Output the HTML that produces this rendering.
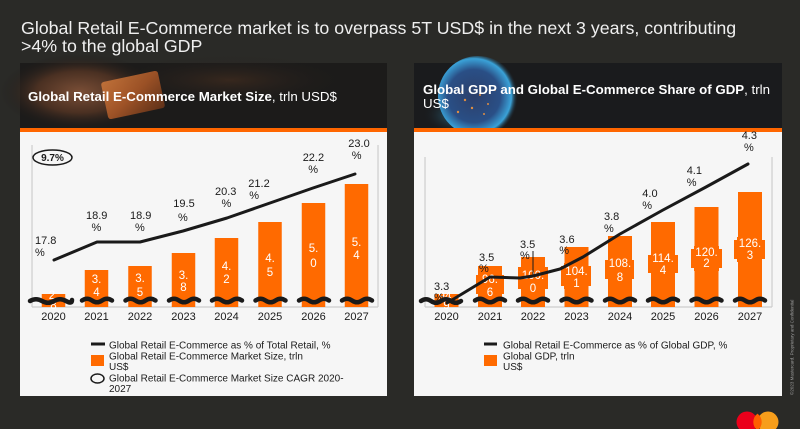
<!DOCTYPE html>
<html><head><meta charset="utf-8"><style>
html,body{margin:0;padding:0;background:#2a2a27;}
svg{display:block;}
</style></head><body>
<svg width="800" height="429" viewBox="0 0 800 429" xmlns="http://www.w3.org/2000/svg" font-family="'Liberation Sans', Arial, sans-serif">
<defs>
<radialGradient id="hand" cx="0.5" cy="0.5" r="0.5">
<stop offset="0" stop-color="#7a4e36"/><stop offset="0.55" stop-color="#4a3022"/><stop offset="1" stop-color="#1c1a19" stop-opacity="0"/>
</radialGradient>
<linearGradient id="card" x1="0" y1="0" x2="1" y2="1">
<stop offset="0" stop-color="#d07a3c"/><stop offset="0.5" stop-color="#b05a28"/><stop offset="1" stop-color="#6a3418"/>
</linearGradient>
<radialGradient id="bokeh" cx="0.5" cy="0.5" r="0.5">
<stop offset="0" stop-color="#4a3020" stop-opacity="0.6"/><stop offset="1" stop-color="#1c1c1c" stop-opacity="0"/>
</radialGradient>
<radialGradient id="globe" cx="0.45" cy="0.5" r="0.55">
<stop offset="0" stop-color="#2c3f6a"/><stop offset="0.6" stop-color="#2a4f86"/><stop offset="0.85" stop-color="#3aa2d8"/><stop offset="1" stop-color="#1a1d24" stop-opacity="0"/>
</radialGradient>
<radialGradient id="glow" cx="0.5" cy="0.5" r="0.5">
<stop offset="0" stop-color="#40c0f0" stop-opacity="0.9"/><stop offset="1" stop-color="#1a1d24" stop-opacity="0"/>
</radialGradient>
</defs>

<rect x="0" y="0" width="800" height="429" fill="#2a2a27"/>

<text x="21" y="34" font-size="17.8" fill="#efefef">Global Retail E-Commerce market is to overpass 5T USD$ in the next 3 years, contributing</text>
<text x="21" y="52" font-size="17.8" fill="#efefef">&gt;4% to the global GDP</text>

<!-- Panel 1 -->
<rect x="20" y="63" width="367" height="65" fill="#1c1b1a"/>
<ellipse cx="230" cy="80" rx="120" ry="25" fill="url(#bokeh)"/>
<ellipse cx="80" cy="92" rx="80" ry="38" fill="url(#hand)"/>
<g transform="rotate(-12 133 95)" opacity="0.85"><rect x="104" y="76" width="58" height="38" rx="3" fill="url(#card)"/></g>
<rect x="20" y="128" width="367" height="4" fill="#ff6600"/>
<rect x="20" y="132" width="367" height="264" fill="#f6f6f6"/>
<text x="28" y="101" font-size="13.3" fill="#ffffff"><tspan font-weight="bold">Global Retail E-Commerce Market Size</tspan>, trln USD$</text>

<!-- Panel 2 -->
<rect x="414" y="63" width="368" height="65" fill="#1a1b1d"/>
<ellipse cx="468" cy="115" rx="45" ry="20" fill="url(#glow)"/>
<circle cx="478" cy="96" r="40" fill="url(#globe)"/>
<g fill="#ff9a3a" opacity="0.85">
<circle cx="465" cy="100" r="1.2"/><circle cx="472" cy="108" r="1.2"/><circle cx="480" cy="95" r="1"/><circle cx="458" cy="112" r="1.2"/><circle cx="488" cy="104" r="1"/><circle cx="470" cy="88" r="0.9"/><circle cx="495" cy="90" r="0.9"/><circle cx="462" cy="92" r="1"/><circle cx="484" cy="114" r="1"/>
</g>
<rect x="414" y="128" width="368" height="4" fill="#ff6600"/>
<rect x="414" y="132" width="368" height="264" fill="#f6f6f6"/>
<text x="423" y="94" font-size="13.3" fill="#ffffff"><tspan font-weight="bold">Global GDP and Global E-Commerce Share of GDP</tspan>, trln</text>
<text x="423" y="108" font-size="13.3" fill="#ffffff">US$</text>

<!-- Chart 1 frame -->
<g stroke="#cdcdcd" stroke-width="1.2" fill="none">
<line x1="32" y1="145" x2="32" y2="307"/>
<line x1="378" y1="145" x2="378" y2="307"/>
<line x1="32" y1="307" x2="378" y2="307"/>
</g>
<g fill="#ff6a00">
<rect x="41.75" y="294" width="23.5" height="13"/>
<rect x="84.75" y="270" width="23.5" height="37"/>
<rect x="128.25" y="266" width="23.5" height="41"/>
<rect x="171.75" y="253" width="23.5" height="54"/>
<rect x="214.75" y="238" width="23.5" height="69"/>
<rect x="258.25" y="222" width="23.5" height="85"/>
<rect x="301.75" y="203" width="23.5" height="104"/>
<rect x="344.75" y="184" width="23.5" height="123"/>
</g>
<g fill="#ffffff" font-size="11.5" text-anchor="middle">
<text x="53.5" y="299">2.</text><text x="53.5" y="309">8</text>
<text x="96.5" y="283">3.</text><text x="96.5" y="296">4</text>
<text x="140" y="282">3.</text><text x="140" y="296">5</text>
<text x="183.5" y="279">3.</text><text x="183.5" y="291">8</text>
<text x="226.5" y="270">4.</text><text x="226.5" y="283">2</text>
<text x="270" y="262">4.</text><text x="270" y="276">5</text>
<text x="313.5" y="252">5.</text><text x="313.5" y="267">0</text>
<text x="356.5" y="246">5.</text><text x="356.5" y="259">4</text>
</g>
<g stroke="#1a1a1a" stroke-width="4.5" fill="none" stroke-linecap="round">
<path d="M30,301 q6,-3.5 12,0 t12,0 t12,0 t6,-1"/>
<path d="M82,300.5 q5,-3.5 10,0 t10,0 t10,0"/>
<path d="M125.5,300.5 q5,-3.5 10,0 t10,0 t10,0"/>
<path d="M169,300.5 q5,-3.5 10,0 t10,0 t10,0"/>
<path d="M212,300.5 q5,-3.5 10,0 t10,0 t10,0"/>
<path d="M255.5,300.5 q5,-3.5 10,0 t10,0 t10,0"/>
<path d="M299,300.5 q5,-3.5 10,0 t10,0 t10,0"/>
<path d="M342,300.5 q5,-3.5 10,0 t10,0 t10,0"/>
</g>
<polyline points="54,260 97,242 140,242 183,231 227,218 270,203 313,188 355,174" fill="none" stroke="#1a1a1a" stroke-width="3" stroke-linejoin="round" stroke-linecap="round"/>
<g fill="#1a1a1a" font-size="11">
<text x="35" y="244">17.8</text><text x="35" y="256">%</text>
<text x="86" y="219">18.9</text><text x="91.5" y="231">%</text>
<text x="130" y="219">18.9</text><text x="135" y="231">%</text>
<text x="173.3" y="207">19.5</text><text x="178" y="221">%</text>
<text x="215" y="195">20.3</text><text x="221.5" y="207">%</text>
<text x="248.3" y="187">21.2</text><text x="249.3" y="199">%</text>
<text x="302.7" y="161">22.2</text><text x="308.3" y="173">%</text>
<text x="348.3" y="147">23.0</text><text x="351.7" y="159">%</text>
</g>
<ellipse cx="52.5" cy="157.5" rx="19.5" ry="7.5" fill="#f6f6f6" stroke="#1a1a1a" stroke-width="1.5"/>
<text x="52.5" y="161" font-size="10" font-weight="bold" text-anchor="middle" fill="#1a1a1a">9.7%</text>
<g fill="#1a1a1a" font-size="11" text-anchor="middle">
<text x="53.5" y="320">2020</text><text x="96.5" y="320">2021</text><text x="140" y="320">2022</text><text x="183.5" y="320">2023</text>
<text x="226.5" y="320">2024</text><text x="270" y="320">2025</text><text x="313.5" y="320">2026</text><text x="356.5" y="320">2027</text>
</g>
<line x1="91" y1="344" x2="105" y2="344" stroke="#1a1a1a" stroke-width="3"/>
<rect x="91" y="355" width="13" height="11" fill="#ff6a00"/>
<ellipse cx="97.5" cy="378.5" rx="6.5" ry="4.5" fill="none" stroke="#1a1a1a" stroke-width="1.5"/>
<g fill="#1a1a1a" font-size="10">
<text x="109" y="348.5">Global Retail E-Commerce as % of Total Retail, %</text>
<text x="109" y="359.5">Global Retail E-Commerce Market Size, trln</text>
<text x="109" y="370">US$</text>
<text x="109" y="381.5">Global Retail E-Commerce Market Size CAGR 2020-</text>
<text x="109" y="392">2027</text>
</g>

<!-- Chart 2 frame -->
<g stroke="#cdcdcd" stroke-width="1.2" fill="none">
<line x1="425" y1="157" x2="425" y2="307"/>
<line x1="772" y1="157" x2="772" y2="307"/>
<line x1="425" y1="307" x2="772" y2="307"/>
</g>
<g fill="#ff6a00">
<rect x="434.5" y="294" width="24" height="13"/>
<rect x="478" y="266" width="24" height="41"/>
<rect x="521" y="257" width="24" height="50"/>
<rect x="564.5" y="247" width="24" height="60"/>
<rect x="608" y="236" width="24" height="71"/>
<rect x="651" y="222" width="24" height="85"/>
<rect x="694.5" y="207" width="24" height="100"/>
<rect x="738" y="192" width="24" height="115"/>
<polygon points="479,272 501,272 501,275 504,275 504,294 501,294 501,297 479,297 479,294 476,294 476,275 479,275"/>
<polygon points="521,264 545,264 545,267 548,267 548,289 545,289 545,292 521,292 521,289 518,289 518,267 521,267"/>
<polygon points="564,263 588,263 588,266 591,266 591,286 588,286 588,289 564,289 564,286 561,286 561,266 564,266"/>
<polygon points="608,257 631,257 631,260 634,260 634,279 631,279 631,282 608,282 608,279 605,279 605,260 608,260"/>
<polygon points="651,252 675,252 675,255 678,255 678,273 675,273 675,276 651,276 651,273 648,273 648,255 651,255"/>
<polygon points="694,246 719,246 719,249 722,249 722,268 719,268 719,271 694,271 694,268 691,268 691,249 694,249"/>
<polygon points="737,237 762,237 762,240 765,240 765,259 762,259 762,262 737,262 737,259 734,259 734,240 737,240"/>
</g>
<g fill="#ffffff" font-size="11.5" text-anchor="middle">
<text x="446.5" y="300">94.</text><text x="446.5" y="309">9</text>
<text x="490" y="283">96.</text><text x="490" y="296">6</text>
<text x="533" y="279">100.</text><text x="533" y="292">0</text>
<text x="576.5" y="275">104.</text><text x="576.5" y="287">1</text>
<text x="620" y="267">108.</text><text x="620" y="281">8</text>
<text x="663" y="262">114.</text><text x="663" y="274">4</text>
<text x="706.5" y="256">120.</text><text x="706.5" y="267">2</text>
<text x="750" y="247">126.</text><text x="750" y="259">3</text>
</g>
<g stroke="#1a1a1a" stroke-width="4.5" fill="none" stroke-linecap="round">
<path d="M421,301 q5,-3.5 10,0 t10,0 t10,0 t10,0"/>
<path d="M475,300.5 q5,-3.5 10,0 t10,0 t10,0"/>
<path d="M518,300.5 q5,-3.5 10,0 t10,0 t10,0"/>
<path d="M561.5,300.5 q5,-3.5 10,0 t10,0 t10,0"/>
<path d="M605,300.5 q5,-3.5 10,0 t10,0 t10,0"/>
<path d="M648,300.5 q5,-3.5 10,0 t10,0 t10,0"/>
<path d="M691.5,300.5 q5,-3.5 10,0 t10,0 t10,0"/>
<path d="M735,300.5 q5,-3.5 10,0 t10,0 t10,0"/>
</g>
<polyline points="447,303 490,277 520,278 533,276 560,269 583,257 620,234 663,210 706,187 748,164" fill="none" stroke="#1a1a1a" stroke-width="3" stroke-linejoin="round" stroke-linecap="round"/>
<line x1="533" y1="251" x2="533" y2="276" stroke="#1a1a1a" stroke-width="1"/>
<g fill="#1a1a1a" font-size="11">
<text x="434" y="290">3.3</text><text x="434" y="301">%</text>
<text x="479" y="261">3.5</text><text x="479" y="272">%</text>
<text x="520" y="248">3.5</text><text x="520" y="259">%</text>
<text x="559.3" y="243">3.6</text><text x="559.3" y="254">%</text>
<text x="604" y="220">3.8</text><text x="604" y="232">%</text>
<text x="642.3" y="197">4.0</text><text x="642.3" y="209">%</text>
<text x="686.7" y="174">4.1</text><text x="686.7" y="186">%</text>
<text x="741.7" y="139">4.3</text><text x="744" y="151">%</text>
</g>
<g fill="#1a1a1a" font-size="11" text-anchor="middle">
<text x="446.5" y="320">2020</text><text x="490" y="320">2021</text><text x="533" y="320">2022</text><text x="576.5" y="320">2023</text>
<text x="620" y="320">2024</text><text x="663" y="320">2025</text><text x="706.5" y="320">2026</text><text x="750" y="320">2027</text>
</g>
<line x1="484" y1="344" x2="497" y2="344" stroke="#1a1a1a" stroke-width="3"/>
<rect x="484" y="355" width="13" height="11" fill="#ff6a00"/>
<g fill="#1a1a1a" font-size="10">
<text x="503" y="348.5">Global Retail E-Commerce as % of Global GDP, %</text>
<text x="503" y="359.5">Global GDP, trln</text>
<text x="503" y="370">US$</text>
</g>

<text transform="translate(793.5,395) rotate(-90)" font-size="4.5" fill="#9a9a9a">©2023 Mastercard. Proprietary and Confidential</text>

<circle cx="747" cy="422" r="10.5" fill="#eb001b"/>
<circle cx="768" cy="422" r="10.5" fill="#f79e1b"/>
<path d="M757.5,413.6 A10.5,10.5 0 0 1 757.5,430.4 A10.5,10.5 0 0 1 757.5,413.6 Z" fill="#ff5f00"/>
</svg>
</body></html>
